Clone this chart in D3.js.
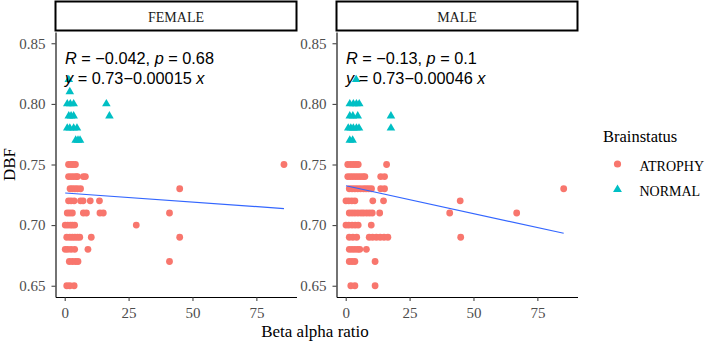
<!DOCTYPE html>
<html>
<head>
<meta charset="utf-8">
<script src="https://cdn.jsdelivr.net/npm/d3@7"></script>
<style>
  body { margin: 0; background: #fff; }
  svg { display: block; }
</style>
</head>
<body>
<div id="chart"></div>
<script>
// data: [beta alpha ratio, DBF]
var femaleAtrophy = [
  [1.5, 0.75], [2.5, 0.75], [3.3, 0.75], [4.2, 0.75], [85.8, 0.75],
  [1.5, 0.74], [2.5, 0.74], [3.5, 0.74], [4.5, 0.74], [5, 0.74], [7.3, 0.74], [8.1, 0.74],
  [2.1, 0.73], [3, 0.73], [4, 0.73], [5, 0.73], [6.2, 0.73], [45, 0.73],
  [1.5, 0.72], [2.5, 0.72], [3.7, 0.72], [6.2, 0.72], [7.2, 0.72], [10, 0.72], [13.6, 0.72],
  [1, 0.71], [2, 0.71], [3, 0.71], [7.3, 0.71], [8.5, 0.71], [13.8, 0.71], [15.1, 0.71], [41, 0.71],
  [0.2, 0.70], [1.2, 0.70], [2.2, 0.70], [3, 0.70], [3.9, 0.70], [28, 0.70],
  [0.8, 0.69], [2, 0.69], [3, 0.69], [4, 0.69], [5, 0.69], [5.9, 0.69], [10.4, 0.69], [45, 0.69],
  [0.2, 0.68], [1.2, 0.68], [2.5, 0.68], [3.9, 0.68], [9.1, 0.68],
  [1.8, 0.67], [3, 0.67], [4.2, 0.67], [5.2, 0.67], [41, 0.67],
  [0.8, 0.65], [2, 0.65], [3.7, 0.65]
];
var femaleNormal = [
  [1.6, 0.82], [2, 0.81],
  [1, 0.80], [2.2, 0.80], [3.5, 0.80], [16.3, 0.80],
  [1.6, 0.79], [2.5, 0.79], [3.5, 0.79], [17.5, 0.79],
  [1, 0.78], [2, 0.78], [3.5, 0.78], [4.8, 0.78],
  [4.3, 0.77], [5.2, 0.77], [6, 0.77]
];
var maleAtrophy = [
  [0.8, 0.75], [2, 0.75], [3, 0.75], [4, 0.75], [4.9, 0.75], [16, 0.75],
  [0.8, 0.74], [1.8, 0.74], [2.8, 0.74], [3.8, 0.74], [4.8, 0.74], [5.8, 0.74], [6.8, 0.74], [7.5, 0.74], [13.7, 0.74], [15.2, 0.74],
  [1.4, 0.73], [2.5, 0.73], [3.6, 0.73], [4.7, 0.73], [5.8, 0.73], [7, 0.73], [8, 0.73], [9, 0.73], [10.1, 0.73], [13.7, 0.73], [15.2, 0.73], [85.3, 0.73],
  [0.1, 0.72], [1.2, 0.72], [2.4, 0.72], [3.6, 0.72], [10.6, 0.72], [14.8, 0.72], [44.8, 0.72],
  [1.4, 0.71], [2.5, 0.71], [3.6, 0.71], [4.8, 0.71], [6, 0.71], [7, 0.71], [8.2, 0.71], [9.3, 0.71], [10.4, 0.71], [13.3, 0.71], [40.7, 0.71], [66.9, 0.71],
  [0.1, 0.70], [1.2, 0.70], [2.5, 0.70], [3.7, 0.70], [4.9, 0.70], [10, 0.70],
  [1.4, 0.69], [2.8, 0.69], [4.3, 0.69], [9.2, 0.69], [10.5, 0.69], [12, 0.69], [13.5, 0.69], [15, 0.69], [16.5, 0.69], [45, 0.69],
  [1.4, 0.68], [2.5, 0.68], [3.6, 0.68], [4.7, 0.68], [5.5, 0.68], [8.1, 0.68],
  [1.4, 0.67], [2.5, 0.67], [3.6, 0.67], [11.5, 0.67],
  [2, 0.65], [3.6, 0.65], [11.5, 0.65]
];
var maleNormal = [
  [4.1, 0.82],
  [1.6, 0.80], [3, 0.80], [4.2, 0.80], [5.3, 0.80],
  [1.6, 0.79], [2.8, 0.79], [4.7, 0.79], [17.7, 0.79],
  [1, 0.78], [2, 0.78], [3, 0.78], [4.2, 0.78], [5.2, 0.78], [17.7, 0.78],
  [1.6, 0.77], [2.7, 0.77]
];

// fitted lines [intercept, slope] and stat labels
var femaleFit = [0.7265, -0.00015];
var maleFit = [0.7325, -0.00046];
var femaleStats = { r: "\u22120.042", p: "0.68", eq: "0.73\u22120.00015" };
var maleStats = { r: "\u22120.13", p: "0.1", eq: "0.73\u22120.00046" };

var panelNames = ["FEMALE", "MALE"];
var xTicks = [0, 25, 50, 75];
var yTicks = [0.65, 0.70, 0.75, 0.80, 0.85];
var statusNames = ["ATROPHY", "NORMAL"];
var statusColors = ["#F8766D", "#00BFC4"];

var serif = "'Liberation Serif', 'Times New Roman', serif";
var sans = "'Liberation Sans', Arial, sans-serif";

var width = 708, height = 344;
var panelTop = 32, panelH = 265, panelW = 241;
var panelLefts = [55.5, 336.5];

var svg = d3.select("#chart")
  .append("svg")
  .attr("width", width)
  .attr("height", height);

var x = d3.scaleLinear().domain([-3.6, 90.7]).range([0, panelW]);
var y = d3.scaleLinear().domain([0.6407, 0.8593]).range([panelH, 0]);

var triangle = d3.symbol().type(d3.symbolTriangle).size(32);

var panels = [
  { atrophy: femaleAtrophy, normal: femaleNormal, fit: femaleFit, stats: femaleStats },
  { atrophy: maleAtrophy, normal: maleNormal, fit: maleFit, stats: maleStats }
];

panels.forEach(function (p, i) {
  var g = svg.append("g")
    .attr("transform", "translate(" + panelLefts[i] + "," + panelTop + ")");

  // strip
  g.append("rect")
    .attr("x", 0).attr("y", -30.5)
    .attr("width", panelW).attr("height", 29)
    .attr("fill", "#fff")
    .attr("stroke", "#000")
    .attr("stroke-width", 2);
  g.append("text")
    .attr("x", panelW / 2).attr("y", -10.5)
    .attr("text-anchor", "middle")
    .style("font-family", serif)
    .style("font-size", "14px")
    .attr("fill", "#1a1a1a")
    .text(panelNames[i]);

  // axes
  var ya = g.append("g")
    .call(d3.axisLeft(y).tickValues(yTicks).tickSize(4).tickSizeOuter(0)
      .tickPadding(6).tickFormat(d3.format(".2f")));
  var xa = g.append("g")
    .attr("transform", "translate(0," + panelH + ")")
    .call(d3.axisBottom(x).tickValues(xTicks).tickSize(4).tickSizeOuter(0)
      .tickPadding(6));
  [ya, xa].forEach(function (a) {
    a.select(".domain").attr("stroke", "#000").attr("stroke-width", 1.1);
    a.selectAll(".tick line").attr("stroke", "#333");
    a.selectAll("text")
      .style("font-family", serif)
      .style("font-size", "15px")
      .attr("fill", "#4d4d4d");
  });

  // points
  g.selectAll("circle.atrophy")
    .data(p.atrophy)
    .enter()
    .append("circle")
    .attr("class", "atrophy")
    .attr("cx", function (d) { return x(d[0]); })
    .attr("cy", function (d) { return y(d[1]); })
    .attr("r", 3.4)
    .attr("fill", statusColors[0]);

  g.selectAll("path.normal")
    .data(p.normal)
    .enter()
    .append("path")
    .attr("class", "normal")
    .attr("d", triangle)
    .attr("transform", function (d) { return "translate(" + x(d[0]) + "," + y(d[1]) + ")"; })
    .attr("fill", statusColors[1]);

  // regression line over the data range
  var all = p.atrophy.concat(p.normal);
  var ext = d3.extent(all, function (d) { return d[0]; });
  g.append("line")
    .attr("x1", x(ext[0])).attr("y1", y(p.fit[0] + p.fit[1] * ext[0]))
    .attr("x2", x(ext[1])).attr("y2", y(p.fit[0] + p.fit[1] * ext[1]))
    .attr("stroke", "#3366FF")
    .attr("stroke-width", 1.2);

  // stats label
  var t1 = g.append("text")
    .attr("x", 9.5).attr("y", 31.5)
    .style("font-family", sans).style("font-size", "16.3px")
    .attr("fill", "#000");
  t1.append("tspan").style("font-style", "italic").text("R");
  t1.append("tspan").text(" = " + p.stats.r + ", ");
  t1.append("tspan").style("font-style", "italic").text("p");
  t1.append("tspan").text(" = " + p.stats.p);

  var t2 = g.append("text")
    .attr("x", 9.5).attr("y", 51.5)
    .style("font-family", sans).style("font-size", "16.3px")
    .attr("fill", "#000");
  t2.append("tspan").style("font-style", "italic").text("y");
  t2.append("tspan").text(" = " + p.stats.eq + " ");
  t2.append("tspan").style("font-style", "italic").text("x");
});

// axis titles
svg.append("text")
  .attr("x", 315).attr("y", 337)
  .attr("text-anchor", "middle")
  .style("font-family", serif).style("font-size", "17px")
  .text("Beta alpha ratio");

svg.append("text")
  .attr("transform", "translate(15," + (panelTop + panelH / 2) + ") rotate(-90)")
  .attr("text-anchor", "middle")
  .style("font-family", serif).style("font-size", "17px")
  .text("DBF");

// legend
var legend = svg.append("g").attr("transform", "translate(603,0)");
legend.append("text")
  .attr("x", 0).attr("y", 141.5)
  .style("font-family", serif).style("font-size", "16.5px")
  .text("Brainstatus");

var legendY = [164, 189.5];
statusNames.forEach(function (name, i) {
  if (i === 0) {
    legend.append("circle")
      .attr("cx", 14.5).attr("cy", legendY[i]).attr("r", 3.6)
      .attr("fill", statusColors[i]);
  } else {
    legend.append("path")
      .attr("d", d3.symbol().type(d3.symbolTriangle).size(34))
      .attr("transform", "translate(14.5," + legendY[i] + ")")
      .attr("fill", statusColors[i]);
  }
  legend.append("text")
    .attr("x", 36.5).attr("y", legendY[i] + 6.5)
    .style("font-family", serif).style("font-size", "14px")
    .text(name);
});
</script>
</body>
</html>
